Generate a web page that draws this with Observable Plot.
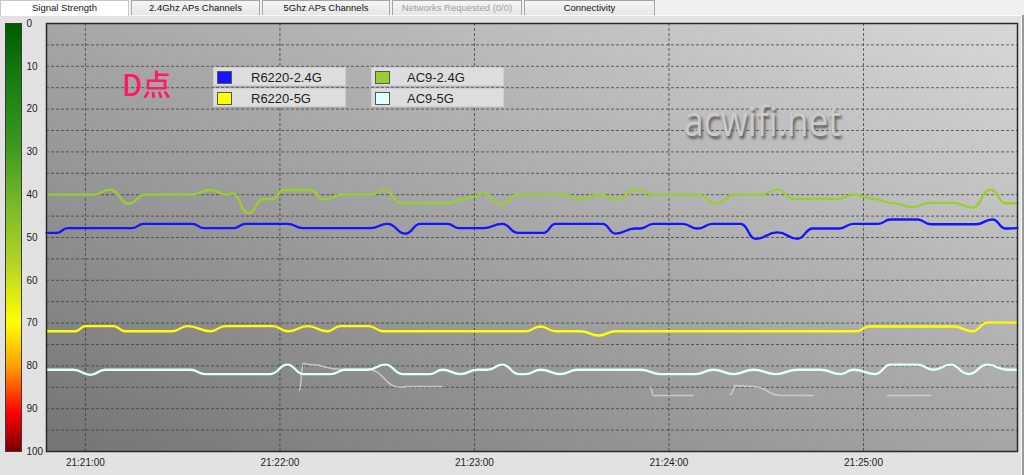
<!DOCTYPE html>
<html><head><meta charset="utf-8">
<script src="https://cdn.jsdelivr.net/npm/d3@7"></script>
<script src="https://cdn.jsdelivr.net/npm/@observablehq/plot@0.6"></script>
<style>
body{margin:0;width:1024px;height:475px;overflow:hidden;background:#e2e2e2;font-family:"Liberation Sans",Arial,sans-serif;position:relative}
#tabs{position:absolute;left:0;top:0;width:1024px;height:15px;background:#f0f0f0;border-bottom:1px solid #fafafa}
.tab{position:absolute;top:0;height:14px;border:1px solid #a5a5a5;border-bottom:none;background:linear-gradient(#f5f5f5,#e6e6e6);font-size:9.5px;line-height:14px;text-align:center;color:#111;box-sizing:border-box;height:15px}
.tab.sel{background:#fff;height:16px;border-color:#c8c8c8}
.tab.dis{color:#a0a0a0}
#rightedge{position:absolute;left:1021px;top:15px;width:2px;height:460px;background:#9a9a9a;border-left:1px solid #f6f6f6}
#cbar{position:absolute;left:5px;top:23px;width:15px;height:427px;border:1px solid #3a3a3a;
background:linear-gradient(to bottom,#005c00 0%,#167a12 12%,#3a9820 28%,#78b82a 42%,#b4d424 56%,#ffff00 70%,#ffa200 80%,#ff3a00 87%,#ff0000 91%,#7a0000 100%)}
#pbg{position:absolute;left:46px;top:23px;width:971px;height:428px;background:linear-gradient(to top right,#747474,#a6a6a6 50%,#d8d8d8)}
#chart{position:absolute;left:0;top:0}
.leg{position:absolute;width:133px;height:19px;background:#dddddd;border:1px solid #cfcfcf;box-sizing:border-box;font-size:13px;color:#1d1d1d}
.sw{position:absolute;left:3px;top:3px;width:15px;height:13px;border:1px solid #555;box-sizing:border-box}
.lt{position:absolute;top:1px;line-height:17px}
#dlabel{position:absolute;left:122px;top:65px;font-family:"Noto Sans CJK SC",sans-serif;font-size:29px;font-weight:500;color:#ff1a66;line-height:36px}
#wm{position:absolute;left:684px;top:95px;font-family:"Open Sans",sans-serif;font-size:42px;color:#cbcbcb;transform-origin:0 0;transform:scaleX(0.84);text-shadow:2px 3px 3px #5a5a5a;line-height:50px}
</style></head>
<body>
<div id="tabs"></div>
<div id="rightedge"></div>
<div id="cbar"></div>
<div id="pbg"></div>
<div id="chart"></div>
<div id="legend"></div>
<div id="dlabel">D点</div>
<div id="wm">acwifi.net</div>
<script>
// ---- Data ----
const tabLabels = ["Signal Strength","2.4Ghz APs Channels","5Ghz APs Channels","Networks Requested (0/0)","Connectivity"];
const seriesNames = ["R6220-2.4G","R6220-5G","AC9-2.4G","AC9-5G"];
const seriesColors = ["#1414ff","#ffff00","#9acd32","#e0ffff"];
const xTickLabels = ["21:21:00","21:22:00","21:23:00","21:24:00","21:25:00"];
const yTicks = [0,10,20,30,40,50,60,70,80,90,100];
const yGrid = [5,10,15,20,25,30,35,40,45,50,55,60,65,70,75,80,85,90,95];
const xStartSec = -12, xEndSec = 287.5; // seconds relative to 21:21:00

// seconds after 21:21:00 / signal values
const r6220_24_t = [-12,-8.6,-5.6,14.5,17.9,33.0,36.4,45.7,49.4,62.3,67.2,87.9,93.2,98.7,103.3,111.7,115.1,122.8,128.6,133.3,141.3,145.0,159.5,163.5,169.6,171.2,175.2,184.2,188.8,193.4,202.1,206.7,213.5,219.6,224.3,232.3,236.9,244.6,248.3,256.7,260.7,274.6,279.8,283.8,287.5];
const r6220_24_v = [48.9,48.9,47.8,47.8,46.8,46.8,47.8,47.8,46.8,46.8,47.8,47.8,46.8,49.1,46.8,46.8,47.8,47.8,46.8,48.9,48.9,46.8,46.8,49.1,47.9,47.9,46.8,46.8,47.9,46.8,46.8,50.3,48.8,50.3,47.9,47.9,46.8,46.8,45.8,45.8,46.9,46.9,45.8,47.9,47.8];

const r6220_5_t = [-12,-3.1,0,8.6,12.3,26.8,31.5,38.6,43.2,57.7,62.6,68.5,74.7,78.7,87.3,91.9,135.7,140.4,145.0,152.7,158.3,163.5,238.1,241.5,267.8,273.6,278.2,287.5];
const r6220_5_v = [71.9,71.9,70.7,70.7,71.9,71.9,70.7,71.9,70.7,70.7,71.9,70.7,71.9,70.7,70.7,71.9,71.9,70.8,71.9,71.9,72.9,71.9,71.9,70.8,70.8,71.9,69.9,69.9];

const ac9_24_t = [-12,2.5,7.7,13.3,18.5,32.4,38.6,43.8,45.3,50.3,54.9,57.7,61.1,69.4,73.4,79.6,87.9,92.5,97.2,111.7,116.6,119.7,122.8,128.0,133.3,147.5,152.7,158.3,164.1,169.6,175.8,189.1,194.4,200.5,208.2,213.5,218.4,232.3,236.9,243.7,248.3,255.4,260.0,267.8,273.6,279.2,283.8,287.5];
const ac9_24_v = [40,40,38.8,42.1,40,40,38.9,40,39.7,44.3,41,41,38.9,38.9,41.1,40,40,38.8,42,42,41,40.5,39.7,42.2,40,40,41,40,41,38.9,40,40,42.1,40,40,38.8,41,41,40,41,41.9,42.9,41.9,41.9,43,38.8,42,42];

const ac9_5_t = [-12,-3.7,1.5,6.2,32.4,37.0,57.1,62.3,67.2,75.6,80.2,87.0,92.5,97.8,106.4,110.1,115.7,120.9,124.0,128.6,133.6,135.7,140.4,146.5,151.8,171.2,177.4,188.2,193.7,199.9,206.1,212.9,219.6,226.7,232.9,236.9,243.7,248.3,256.7,261.6,266.8,272.4,278.2,284.4,287.5];
const ac9_5_v = [80.9,80.9,82.1,80.9,80.9,81.9,81.9,79.7,81.9,81.9,80.9,80.9,79.7,81.9,81.9,80.9,81.9,80.9,80.9,79.7,81.9,81.9,80.9,81.9,80.9,80.9,81.9,81.9,80.9,81.9,80.9,81.9,80.9,80.9,81.9,80.9,81.9,79.7,79.7,80.9,79.7,81.9,79.7,80.9,80.9];

// faded traces of networks that dropped out
const ghost1_t = [66.0,67.2,69.4,78.7,87.0,97.2,99.6,110.1];
const ghost1_v = [85.7,79.4,79.7,80.8,80.8,85.0,84.8,84.8];
const ghost2_t = [174.3,175.2,187.6];
const ghost2_v = [85.0,86.9,86.9];
const ghost3_t = [199.0,200.5,206.1,214.4,224.6];
const ghost3_v = [86.7,84.6,84.8,86.9,86.9];
const ghost4_t = [247.4,260.7];
const ghost4_v = [86.9,86.9];

// ---- Build ----
const parseT = d3.utcParse("%H:%M:%S");
const T0 = parseT(xTickLabels[0]);
const toDate = s => new Date(+T0 + s * 1000);
const xTicks = xTickLabels.map(parseT);

const seriesT = [r6220_24_t, r6220_5_t, ac9_24_t, ac9_5_t];
const seriesV = [r6220_24_v, r6220_5_v, ac9_24_v, ac9_5_v];
const data = [];
seriesNames.forEach((n, i) => seriesT[i].forEach((t, j) => data.push({name: n, time: toDate(t), value: seriesV[i][j]})));

const ghosts = [[ghost1_t, ghost1_v],[ghost2_t, ghost2_v],[ghost3_t, ghost3_v],[ghost4_t, ghost4_v]];
const ghostData = [];
ghosts.forEach(([ts, vs], i) => ts.forEach((t, j) => ghostData.push({id: i, time: toDate(t), value: vs[j]})));

// tabs
const tabPos = [[0,129],[131,129],[262,128],[392,130],[524,131]];
const tabs = document.getElementById("tabs");
tabLabels.forEach((l, i) => {
  const d = document.createElement("div");
  d.className = "tab" + (i === 0 ? " sel" : "") + (i === 3 ? " dis" : "");
  d.style.left = tabPos[i][0] + "px"; d.style.width = tabPos[i][1] + "px";
  d.textContent = l; tabs.appendChild(d);
});

// legend
const legPos = [[213,67],[213,88],[371,67],[371,88]];
const legTextX = [37,37,35,35];
const legend = document.getElementById("legend");
seriesNames.forEach((n, i) => {
  const d = document.createElement("div");
  d.className = "leg";
  d.style.left = legPos[i][0] + "px"; d.style.top = legPos[i][1] + "px";
  d.innerHTML = `<div class="sw" style="background:${seriesColors[i]}"></div><div class="lt" style="left:${legTextX[i]}px">${n}</div>`;
  legend.appendChild(d);
});

const chart = Plot.plot({
  width: 1024, height: 475,
  marginLeft: 46, marginRight: 7, marginTop: 23, marginBottom: 24,
  style: {background: "transparent", fontFamily: "'Liberation Sans', Arial, sans-serif", fontSize: "10px", color: "#1c1c1c"},
  x: {type: "utc", domain: [toDate(xStartSec), toDate(xEndSec)], label: null},
  y: {domain: [0, 100], reverse: true, label: null},
  color: {domain: seriesNames, range: seriesColors},
  marks: [
    Plot.gridY(yGrid, {stroke: "#3c3c3c", strokeOpacity: 0.75, strokeDasharray: "3,2"}),
    Plot.gridX(xTicks, {stroke: "#3c3c3c", strokeOpacity: 0.75, strokeDasharray: "3,2"}),
    Plot.line(ghostData, {x: "time", y: "value", z: "id", stroke: "#dadada", strokeOpacity: 0.75, strokeWidth: 1.6, curve: "bump-x"}),
    Plot.line(data, {x: "time", y: "value", z: "name", stroke: "name", strokeWidth: 2.3, curve: "bump-x"}),
    Plot.axisY(yTicks, {anchor: "left", tickSize: 0, tickPadding: 0, dx: -20, textAnchor: "start", fontSize: 10, label: null}),
    Plot.axisX(xTicks, {anchor: "bottom", tickSize: 0, tickPadding: 7, tickFormat: d3.utcFormat("%H:%M:%S"), fontSize: 10, label: null}),
    Plot.frame({stroke: "#2a2a2a", strokeWidth: 1.5})
  ]
});
document.getElementById("chart").appendChild(chart);
</script>
</body></html>
